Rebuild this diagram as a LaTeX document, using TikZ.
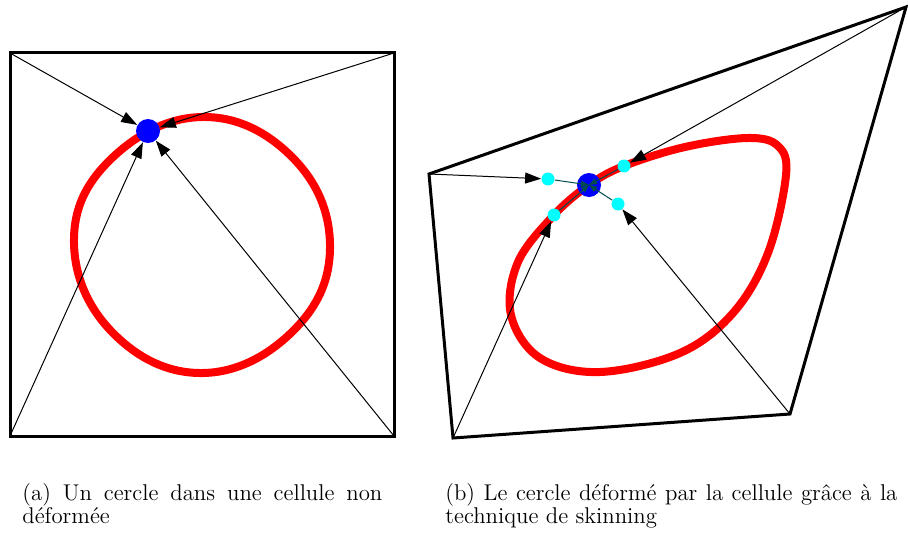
\documentclass[tikz,border=0pt]{standalone}
\usepackage{tikz}
\usetikzlibrary{arrows.meta}
\definecolor{linkcol}{rgb}{0,0.3,0.3}
\definecolor{knotcol}{rgb}{0,1,1}
\definecolor{ptcol}{rgb}{0,0,1}
\definecolor{curvecol}{rgb}{1,0,0}
\tikzset{
  frame/.style={draw, line width=1.5pt, line join=miter},
  arr/.style={-{Triangle[length=8pt,width=5.5pt]}, line width=0.5pt},
  sarr/.style={-{Triangle[length=4pt,width=3pt]}, line width=0.5pt, draw=linkcol},
  curve/.style={draw=curvecol, line width=4pt},
  pt/.style={circle, fill=ptcol, minimum size=12pt, inner sep=0pt},
  knot/.style={circle, fill=knotcol, minimum size=6.5pt, inner sep=0pt},
  capn/.style={font=\fontsize{11.4}{11.6}\selectfont, align=justify, inner sep=0pt, anchor=north west,
    execute at begin node={\hyphenpenalty=10000}},
}

\begin{document}
\begin{tikzpicture}[x=0.5pt,y=-0.5pt]
\useasboundingbox (0,0) rectangle (908,535);
% (a) undeformed cell
\coordinate (a1) at (10,53);
\coordinate (a2) at (394,53);
\coordinate (a3) at (394,436);
\coordinate (a4) at (10,436);
\draw[frame] (a1) -- (a2) -- (a3) -- (a4) -- cycle;
\draw[curve] plot[smooth cycle, tension=0.7] coordinates {(202,117) (292,157) (330,245) (294,330)
  (203,373) (113,333) (74,243) (110,160)};
\node[pt] (pa) at (148,131) {};
\draw[arr] (a1) -- (pa);
\draw[arr] (a2) -- (pa);
\draw[arr] (a3) -- (pa);
\draw[arr] (a4) -- (pa);
% (b) deformed cell
\coordinate (b1) at (429,174);
\coordinate (b2) at (906,7);
\coordinate (b3) at (790,414);
\coordinate (b4) at (453,438);
\draw[frame] (b1) -- (b2) -- (b3) -- (b4) -- cycle;
\draw[curve] plot[smooth cycle, tension=0.6] coordinates {(589,185) (624,166) (685,147) (748,138)
  (778,146) (786,175) (768,253) (733,313) (680,353) (600,372) (540,358)
  (511,315) (518,262) (554,215)};
\node[pt] (pb) at (589,185) {};
\node[knot] (w1) at (548,179) {};
\node[knot] (w2) at (624,166) {};
\node[knot] (w3) at (618,204) {};
\node[knot] (w4) at (554,215) {};
\draw[arr] (b1) -- (w1);
\draw[arr] (b2) -- (w2);
\draw[arr] (b3) -- (w3);
\draw[arr] (b4) -- (w4);
\foreach \w in {w1,w2,w3,w4}
  \draw[sarr] (\w) -- (pb.center);
% captions
\node[capn, text width=180pt] (capa) at (22,483) {(a) Un cercle dans une cellule non d\'eform\'ee};
\node[capn, text width=226pt] (capb) at (445,483) {(b) Le cercle d\'eform\'e par la cellule gr\^ace \`a la technique de skinning};
\end{tikzpicture}
\end{document}
